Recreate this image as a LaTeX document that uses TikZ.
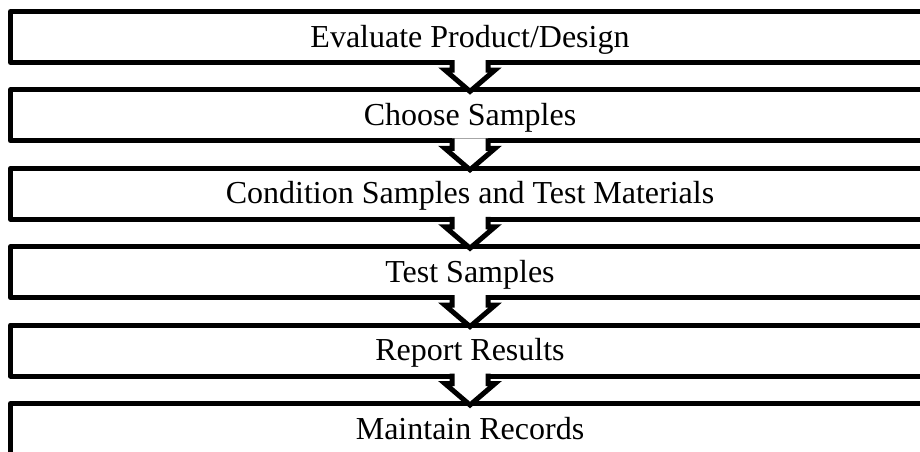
\documentclass[tikz,border=0pt]{standalone}
\usepackage{fontspec}
\setmainfont{Liberation Serif}
\usetikzlibrary{positioning, calc}

\tikzset{
  stepbox/.style={draw, line width=5pt, line join=round, outer sep=0pt,
    inner sep=0pt, minimum width=919pt, minimum height=51pt,
    text height=24pt, text depth=4pt,
    font=\fontsize{32}{38}\selectfont},
  flowarrow/.style={draw, fill=white, line width=5pt, line join=miter}
}
% block arrow from the bottom of one step to the top of the next
\newcommand{\flow}[2]{%
  \path[flowarrow]
    ($(#1.south)+(-18pt,2.5pt)$) -- ($(#1.south)+(-18pt,-7.5pt)$)
    -- ($(#1.south)+(-25pt,-7.5pt)$) -- ($(#2.north)+(0,-1.5pt)$)
    -- ($(#1.south)+(25pt,-7.5pt)$) -- ($(#1.south)+(18pt,-7.5pt)$)
    -- ($(#1.south)+(18pt,2.5pt)$);
}

\begin{document}
\begin{tikzpicture}[node distance=27.4pt]
  \useasboundingbox (0,0) rectangle (920pt,-451pt);

  %Define nodes
  \node[stepbox] (evaluate) at (470pt,-37pt) {Evaluate Product/Design};
  \node[stepbox, below=of evaluate] (choose) {Choose Samples};
  \node[stepbox, below=of choose] (condition) {Condition Samples and Test Materials};
  \node[stepbox, below=of condition] (test) {Test Samples};
  \node[stepbox, below=of test] (report) {Report Results};
  \node[stepbox, below=of report] (records) {Maintain Records};

  % Connect the nodes
  \flow {evaluate} {choose};
  \flow {choose} {condition};
  \flow {condition} {test};
  \flow {test} {report};
  \flow {report} {records};

\end{tikzpicture}
\end{document}
